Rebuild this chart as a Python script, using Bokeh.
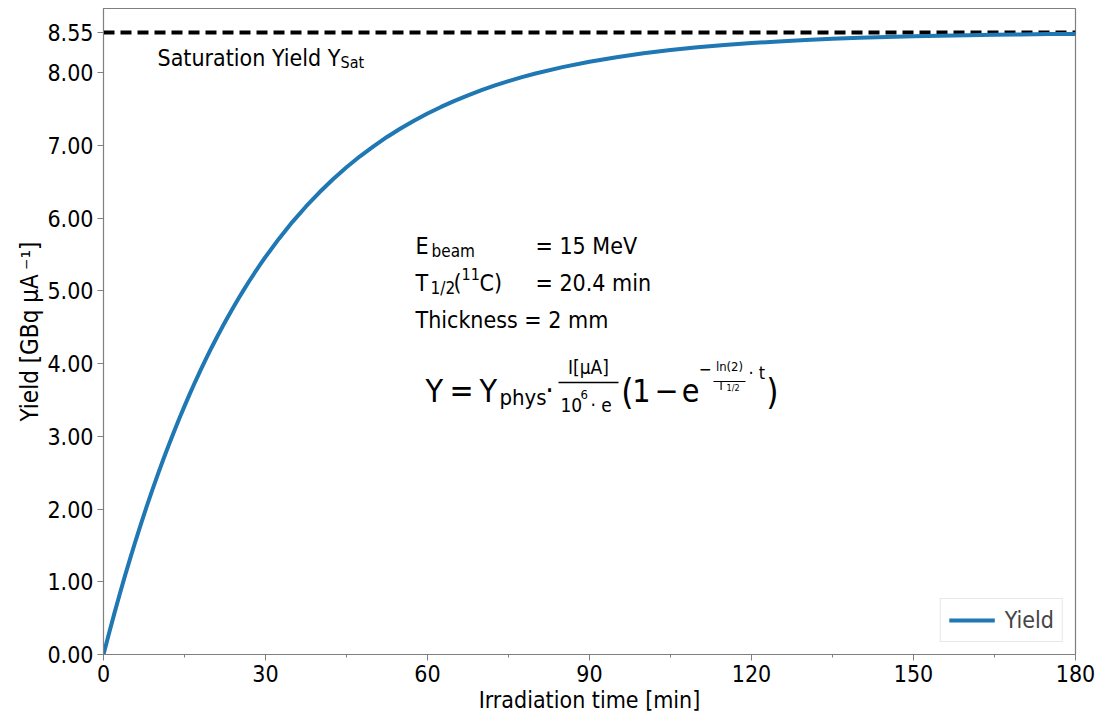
from bokeh.plotting import figure
from bokeh.models import Range1d, FixedTicker, Label, Legend, LegendItem, CustomJSTickFormatter
from bokeh.embed import file_html
from bokeh.resources import INLINE

# ---- data ----
t_min = [0, 1, 2, 3, 4, 5, 6, 7, 8, 9, 10, 11, 12, 13, 14, 15, 16, 17, 18, 19, 20,
         21, 22, 23, 24, 25, 26, 27, 28, 29, 30, 32.5, 35, 37.5, 40, 42.5, 45, 47.5,
         50, 52.5, 55, 57.5, 60, 62.5, 65, 67.5, 70, 72.5, 75, 77.5, 80, 85, 90, 95,
         100, 105, 110, 115, 120, 125, 130, 135, 140, 145, 150, 155, 160, 165, 170,
         175, 180]
yield_gbq = [0.000, 0.286, 0.562, 0.829, 1.087, 1.336, 1.577, 1.810, 2.035, 2.253,
             2.463, 2.666, 2.863, 3.053, 3.237, 3.414, 3.586, 3.752, 3.912, 4.067,
             4.217, 4.361, 4.501, 4.636, 4.767, 4.894, 5.016, 5.134, 5.248, 5.358,
             5.465, 5.716, 5.947, 6.159, 6.354, 6.533, 6.697, 6.848, 6.986, 7.114,
             7.231, 7.338, 7.437, 7.527, 7.611, 7.687, 7.758, 7.822, 7.881, 7.936,
             7.986, 8.074, 8.148, 8.211, 8.264, 8.309, 8.346, 8.378, 8.405, 8.428,
             8.447, 8.463, 8.477, 8.488, 8.498, 8.506, 8.513, 8.519, 8.524, 8.528,
             8.531]
y_sat = 8.55
sat_x = [0, 180]
x_ticks = [0, 30, 60, 90, 120, 150, 180]
x_minor = [15, 45, 75, 105, 135, 165]
y_ticks = [0, 1, 2, 3, 4, 5, 6, 7, 8, 8.55]

FONT = "DejaVu Sans Condensed"
BLUE = "#1f77b4"

L, R, T, B = 103, 20, 8, 64
W, H = 1095, 718
XMAX, YMAX = 180, 8.88
DY = -10  # empirical label baseline correction (screen px)

p = figure(width=W, height=H, output_backend="svg", toolbar_location=None,
           x_range=Range1d(0, XMAX), y_range=Range1d(0, YMAX),
           min_border_left=L, min_border_right=R, min_border_top=T, min_border_bottom=B)
p.grid.visible = False
p.outline_line_color = "#7f7f7f"
p.outline_line_width = 1.2

fw = W - L - R
fh = H - T - B


def X(px):
    return (px - L) / fw * XMAX


def Y(py):
    return (T + fh - py) / fh * YMAX


# saturation line
p.line(sat_x, [y_sat, y_sat], line_color="black", line_width=4, line_dash="11 6")
# yield curve
r = p.line(t_min, yield_gbq, line_color=BLUE, line_width=4)

# axes
for ax in (p.xaxis[0], p.yaxis[0]):
    ax.axis_line_color = "#7f7f7f"
    ax.major_tick_line_color = "#7f7f7f"
    ax.minor_tick_line_color = "#7f7f7f"
    ax.major_tick_in = 0
    ax.major_tick_out = 6
    ax.minor_tick_in = 0
    ax.minor_tick_out = 3
    ax.major_label_text_font = FONT
    ax.major_label_text_font_size = "23px"
    ax.major_label_text_color = "black"
    ax.axis_label_text_font = FONT
    ax.axis_label_text_font_size = "23px"
    ax.axis_label_text_font_style = "normal"
    ax.axis_label_text_color = "black"

p.xaxis.ticker = FixedTicker(ticks=x_ticks, minor_ticks=x_minor)
p.yaxis.ticker = FixedTicker(ticks=y_ticks)
p.yaxis.formatter = CustomJSTickFormatter(code="return tick.toFixed(2);")
p.xaxis.axis_label = "Irradiation time [min]"
p.yaxis.axis_label = "Yield [GBq μA\u2009⁻¹]"
p.yaxis.axis_label_text_font_size = "24px"
p.xaxis.major_label_standoff = 4
p.yaxis.major_label_standoff = 4
p.xaxis.axis_label_standoff = 2
p.yaxis.axis_label_standoff = 0


def lab(px, py, text, size, align="left"):
    p.add_layout(Label(x=X(px), y=Y(py + DY), text=text, text_font=FONT,
                       text_font_size=f"{size}px", text_color="black",
                       text_align=align, text_baseline="alphabetic"))


def bar(px0, px1, py, w):
    p.segment(x0=[X(px0)], y0=[Y(py)], x1=[X(px1)], y1=[Y(py)],
              line_color="black", line_width=w)


# saturation annotation
lab(157, 67, "Saturation Yield Y", 23)
lab(340, 72, "Sat", 16)

# parameter block
lab(415, 255, "E", 23)
lab(431, 260, "beam", 17)
lab(535, 255, "= 15 MeV", 23)
lab(415, 292, "T", 23)
lab(430, 297, "1/2", 17)
lab(453, 292, "(", 23)
lab(461, 283, "11", 16)
lab(479, 292, "C)", 23)
lab(535, 292, "= 20.4 min", 23)
lab(415, 329, "Thickness = 2 mm", 23)

# formula
lab(425, 400, "Y", 32)
lab(461, 400, "=", 32, align="center")
lab(479, 400, "Y", 32)
lab(499, 407, "phys", 22)
lab(549, 400, "·", 30, align="center")
lab(588, 376, "I[μA]", 19, align="center")
bar(558, 618, 382, 1.5)
lab(560, 414, "10", 19)
lab(580, 404, "6", 13)
lab(590, 414, "· e", 19)
lab(627, 401, "(", 35, align="center")
lab(641, 400, "1", 32, align="center")
lab(666, 400, "−", 32, align="center")
lab(690, 400, "e", 32, align="center")
lab(705, 378, "−", 17, align="center")
lab(729, 376, "ln(2)", 13, align="center")
bar(713, 745, 381, 1)
lab(717, 395, "T", 13)
lab(726, 397, "1/2", 9)
lab(748, 382, "· t", 18)
lab(772, 401, ")", 35, align="center")

# legend
legend = Legend(items=[LegendItem(label="Yield", renderers=[r])], location="bottom_right")
legend.label_text_font = FONT
legend.label_text_font_size = "23px"
legend.glyph_width = 46
legend.glyph_height = 20
legend.label_standoff = 10
legend.padding = 8
legend.margin = 12
legend.border_line_color = "#d0d0d0"
legend.border_line_width = 1
legend.background_fill_alpha = 0.8
p.add_layout(legend)

open("out.html", "w").write(file_html(p, INLINE))
